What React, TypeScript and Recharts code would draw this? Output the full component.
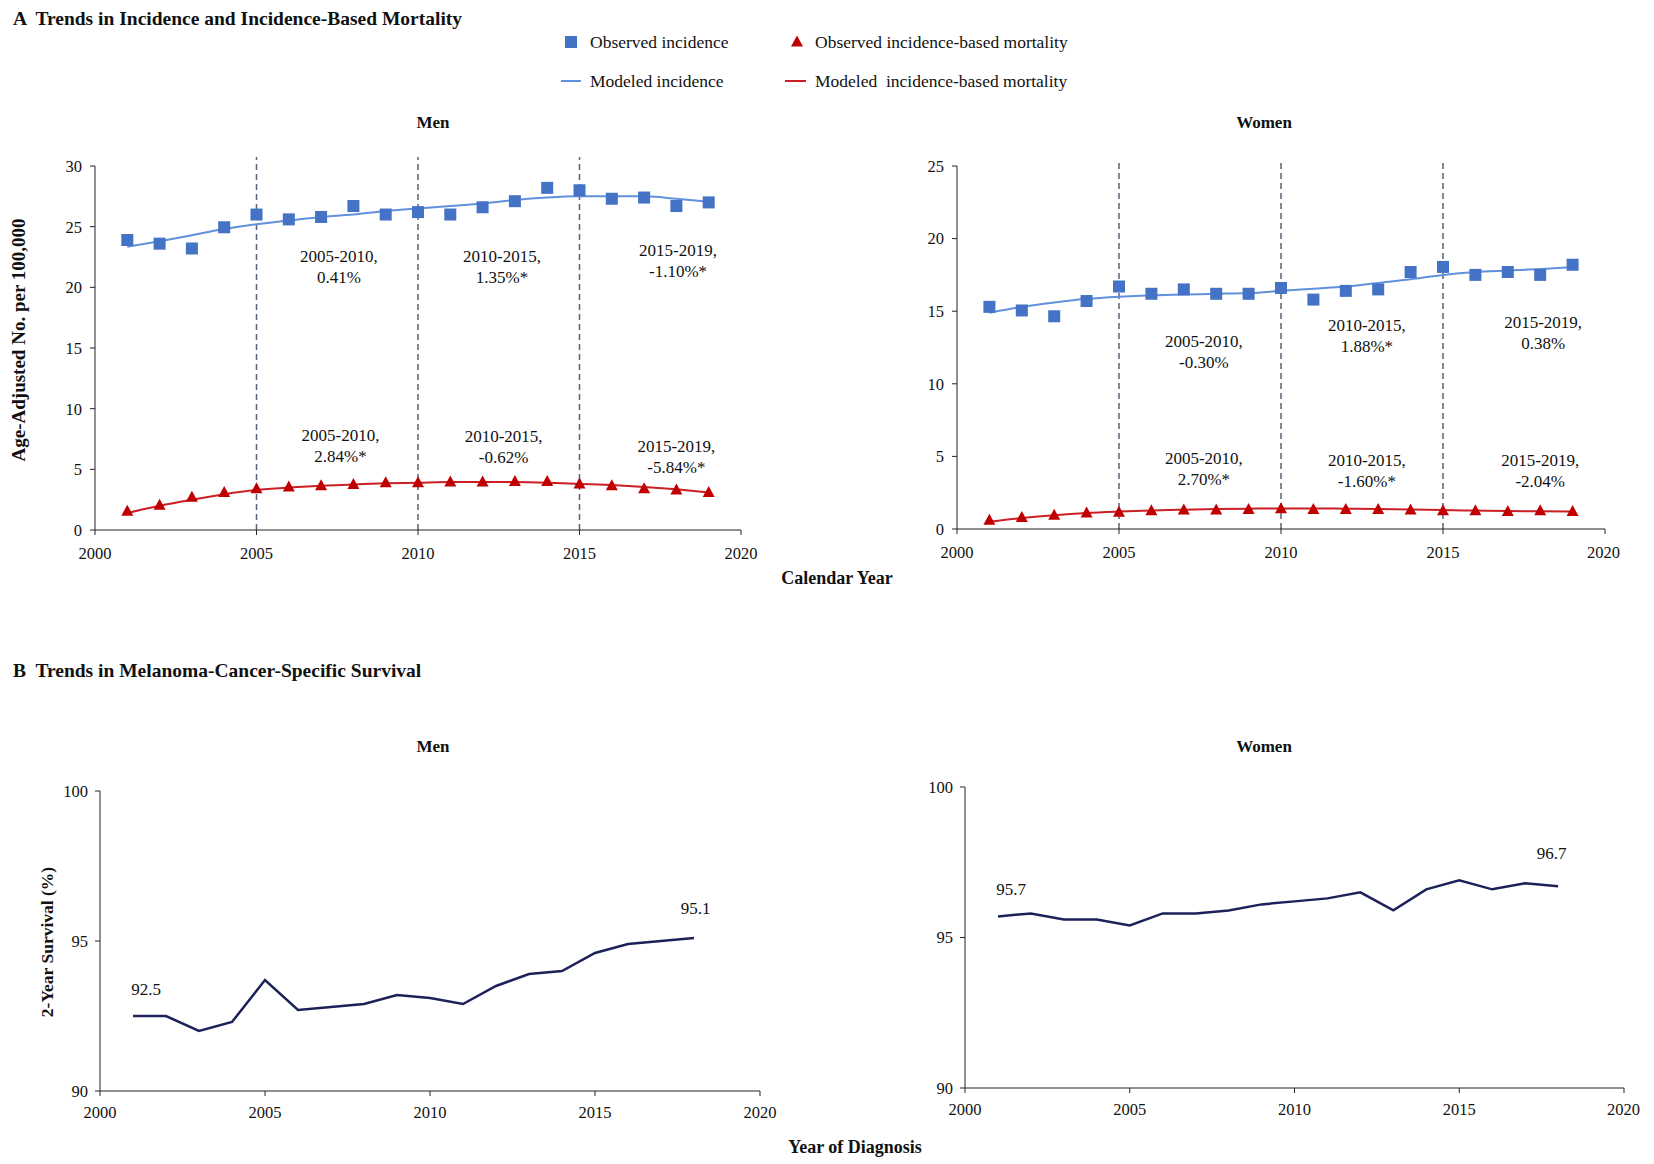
import React from 'react';
import { ComposedChart, LineChart, Line, Scatter, XAxis, YAxis, ReferenceLine, ReferenceDot } from 'recharts';

const FONT = '"Liberation Serif", "Times New Roman", serif';

const years = [2001, 2002, 2003, 2004, 2005, 2006, 2007, 2008, 2009, 2010, 2011, 2012, 2013, 2014, 2015, 2016, 2017, 2018, 2019];
const survivalYears = [2001, 2002, 2003, 2004, 2005, 2006, 2007, 2008, 2009, 2010, 2011, 2012, 2013, 2014, 2015, 2016, 2017, 2018];
const xTicks = [2000, 2005, 2010, 2015, 2020];
const joinpoints = [2005, 2010, 2015];

// men, incidence per 100,000
const menObsInc = [23.9, 23.6, 23.2, 24.95, 26.0, 25.6, 25.8, 26.7, 26.0, 26.2, 26.0, 26.6, 27.1, 28.2, 28.0, 27.3, 27.4, 26.7, 27.0];
const menModInc = [23.35, 23.8, 24.3, 24.8, 25.2, 25.5, 25.8, 26.0, 26.3, 26.5, 26.7, 26.9, 27.2, 27.4, 27.5, 27.5, 27.5, 27.3, 27.05];
const menObsMort = [1.55, 2.05, 2.7, 3.1, 3.4, 3.55, 3.65, 3.75, 3.9, 3.9, 3.95, 3.95, 4.0, 4.0, 3.8, 3.65, 3.4, 3.3, 3.1];
const menModMort = [1.4, 2.0, 2.5, 2.95, 3.3, 3.5, 3.65, 3.75, 3.85, 3.9, 3.95, 3.95, 3.95, 3.9, 3.8, 3.7, 3.55, 3.35, 3.1];

// women, incidence per 100,000
const womenObsInc = [15.3, 15.05, 14.65, 15.7, 16.7, 16.2, 16.5, 16.2, 16.2, 16.6, 15.8, 16.4, 16.5, 17.7, 18.05, 17.5, 17.7, 17.5, 18.2];
const womenModInc = [14.9, 15.3, 15.6, 15.85, 16.0, 16.1, 16.15, 16.2, 16.25, 16.4, 16.55, 16.7, 16.95, 17.2, 17.5, 17.7, 17.8, 17.9, 18.05];
const womenObsMort = [0.6, 0.8, 0.95, 1.1, 1.15, 1.25, 1.3, 1.3, 1.35, 1.4, 1.35, 1.35, 1.35, 1.3, 1.25, 1.25, 1.2, 1.25, 1.2];
const womenModMort = [0.5, 0.75, 0.95, 1.1, 1.2, 1.28, 1.33, 1.37, 1.4, 1.42, 1.42, 1.4, 1.38, 1.35, 1.3, 1.27, 1.24, 1.22, 1.2];

// 2-year cancer-specific survival (%)
const menSurvival = [92.5, 92.5, 92.0, 92.3, 93.7, 92.7, 92.8, 92.9, 93.2, 93.1, 92.9, 93.5, 93.9, 94.0, 94.6, 94.9, 95.0, 95.1];
const womenSurvival = [95.7, 95.8, 95.6, 95.6, 95.4, 95.8, 95.8, 95.9, 96.1, 96.2, 96.3, 96.5, 95.9, 96.6, 96.9, 96.6, 96.8, 96.7];

// APC annotations: anchor year, anchor value, two text lines
const menNotes = [
  { x: 2007.55, y: 21.7, lines: ['2005-2010,', '0.41%'] },
  { x: 2012.6, y: 21.7, lines: ['2010-2015,', '1.35%*'] },
  { x: 2018.05, y: 22.2, lines: ['2015-2019,', '-1.10%*'] },
  { x: 2007.6, y: 7.0, lines: ['2005-2010,', '2.84%*'] },
  { x: 2012.65, y: 6.9, lines: ['2010-2015,', '-0.62%'] },
  { x: 2018.0, y: 6.05, lines: ['2015-2019,', '-5.84%*'] },
];
const womenNotes = [
  { x: 2007.62, y: 12.2, lines: ['2005-2010,', '-0.30%'] },
  { x: 2012.65, y: 13.35, lines: ['2010-2015,', '1.88%*'] },
  { x: 2018.09, y: 13.5, lines: ['2015-2019,', '0.38%'] },
  { x: 2007.62, y: 4.15, lines: ['2005-2010,', '2.70%*'] },
  { x: 2012.65, y: 4.05, lines: ['2010-2015,', '-1.60%*'] },
  { x: 2018.0, y: 4.0, lines: ['2015-2019,', '-2.04%'] },
];
const menSurvNotes = [
  { x: 2001.4, y: 93.4, lines: ['92.5'] },
  { x: 2018.05, y: 96.1, lines: ['95.1'] },
];
const womenSurvNotes = [
  { x: 2001.4, y: 96.6, lines: ['95.7'] },
  { x: 2017.8, y: 97.8, lines: ['96.7'] },
];

const BLUE = '#4472c4';
const BLUE_LINE = '#6190dc';
const RED = '#c00000';
const RED_LINE = '#cc1f24';
const NAVY = '#1c2259';

const Square = (props: any) => {
  const { cx, cy } = props;
  if (cx == null || cy == null) return null;
  return <rect x={cx - 6} y={cy - 6} width={12} height={12} fill={BLUE} />;
};

const Triangle = (props: any) => {
  const { cx, cy } = props;
  if (cx == null || cy == null) return null;
  return <polygon points={`${cx},${cy - 6.5} ${cx - 6},${cy + 4.5} ${cx + 6},${cy + 4.5}`} fill={RED} />;
};

const noteLabel = (lines: string[]) => (props: any) => {
  const vb = props.viewBox || {};
  const cx = (vb.x ?? 0) + (vb.width ?? 0) / 2;
  const cy = (vb.y ?? 0) + (vb.height ?? 0) / 2;
  const lh = 21;
  const start = cy - ((lines.length - 1) * lh) / 2;
  return (
    <text x={cx} y={start} textAnchor="middle" dominantBaseline="central" fontFamily={FONT} fontSize={17} fill="#111">
      {lines.map((t, i) => (
        <tspan key={i} x={cx} y={start + i * lh}>{t}</tspan>
      ))}
    </text>
  );
};

const tickStyle = { fill: '#111', fontSize: 16.5, fontFamily: FONT };

function IncidencePanel(props: any) {
  const { left, top, width, height, margin, yWidth, xHeight, yMax, yTicks, notes, obsInc, modInc, obsMort, modMort, dashTop } = props;
  const data = years.map((year, i) => ({ year, obsInc: obsInc[i], modInc: modInc[i], obsMort: obsMort[i], modMort: modMort[i] }));
  return (
    <div style={{ position: 'absolute', left, top }}>
      <ComposedChart width={width} height={height} data={data} margin={margin}>
        <XAxis type="number" dataKey="year" domain={[2000, 2020]} ticks={xTicks} height={xHeight}
          axisLine={{ stroke: '#222' }} tickLine={{ stroke: '#222' }} tickSize={5} tickMargin={12} tick={tickStyle} />
        <YAxis type="number" domain={[0, yMax]} ticks={yTicks} width={yWidth}
          axisLine={{ stroke: '#222' }} tickLine={{ stroke: '#222' }} tickSize={5} tickMargin={8} tick={tickStyle} />
        {joinpoints.map((jp) => (
          <ReferenceLine key={jp} segment={[{ x: jp, y: 0 }, { x: jp, y: dashTop }]} ifOverflow="visible"
            stroke="#56657a" strokeWidth={1.5} strokeDasharray="6 4" />
        ))}
        <Line type="monotone" dataKey="modInc" stroke={BLUE_LINE} strokeWidth={2} dot={false} activeDot={false} isAnimationActive={false} />
        <Line type="monotone" dataKey="modMort" stroke={RED_LINE} strokeWidth={2} dot={false} activeDot={false} isAnimationActive={false} />
        <Scatter dataKey="obsInc" shape={Square} isAnimationActive={false} />
        <Scatter dataKey="obsMort" shape={Triangle} isAnimationActive={false} />
        {notes.map((n: any, i: number) => (
          <ReferenceDot key={i} x={n.x} y={n.y} r={1} fill="none" stroke="none" ifOverflow="visible" label={{ content: noteLabel(n.lines) }} />
        ))}
      </ComposedChart>
    </div>
  );
}

function SurvivalPanel(props: any) {
  const { left, top, width, height, margin, yWidth, xHeight, values, notes } = props;
  const data = survivalYears.map((year, i) => ({ year, survival: values[i] }));
  return (
    <div style={{ position: 'absolute', left, top }}>
      <LineChart width={width} height={height} data={data} margin={margin}>
        <XAxis type="number" dataKey="year" domain={[2000, 2020]} ticks={xTicks} height={xHeight}
          axisLine={{ stroke: '#222' }} tickLine={{ stroke: '#222' }} tickSize={5} tickMargin={10} tick={tickStyle} />
        <YAxis type="number" domain={[90, 100]} ticks={[90, 95, 100]} width={yWidth}
          axisLine={{ stroke: '#222' }} tickLine={{ stroke: '#222' }} tickSize={5} tickMargin={7} tick={tickStyle} />
        <Line type="linear" dataKey="survival" stroke={NAVY} strokeWidth={2.5} dot={false} activeDot={false} isAnimationActive={false} />
        {notes.map((n: any, i: number) => (
          <ReferenceDot key={i} x={n.x} y={n.y} r={1} fill="none" stroke="none" ifOverflow="visible" label={{ content: noteLabel(n.lines) }} />
        ))}
      </LineChart>
    </div>
  );
}

export default function App() {
  const bold = { fontFamily: FONT, fontWeight: 700, fill: '#111' } as const;
  const reg = { fontFamily: FONT, fill: '#111', fontSize: 17.5 } as const;
  const pre = { whiteSpace: 'pre' } as const;
  return (
    <div style={{ position: 'absolute', left: 0, top: 0, width: 1654, height: 1164, background: '#fff', overflow: 'hidden' }}>
      <IncidencePanel left={0} top={130} width={760} height={440}
        margin={{ top: 36, right: 19, bottom: 10, left: 0 }} yWidth={95} xHeight={30}
        yMax={30} yTicks={[0, 5, 10, 15, 20, 25, 30]} dashTop={30.75} notes={menNotes}
        obsInc={menObsInc} modInc={menModInc} obsMort={menObsMort} modMort={menModMort} />
      <IncidencePanel left={860} top={130} width={760} height={440}
        margin={{ top: 36, right: 15, bottom: 11, left: 0 }} yWidth={97} xHeight={30}
        yMax={25} yTicks={[0, 5, 10, 15, 20, 25]} dashTop={25.35} notes={womenNotes}
        obsInc={womenObsInc} modInc={womenModInc} obsMort={womenObsMort} modMort={womenModMort} />
      <SurvivalPanel left={0} top={760} width={780} height={380}
        margin={{ top: 31, right: 20, bottom: 19, left: 0 }} yWidth={100} xHeight={30}
        values={menSurvival} notes={menSurvNotes} />
      <SurvivalPanel left={860} top={760} width={780} height={380}
        margin={{ top: 27, right: 16, bottom: 22, left: 0 }} yWidth={105} xHeight={30}
        values={womenSurvival} notes={womenSurvNotes} />

      <svg width={1654} height={1164} style={{ position: 'absolute', left: 0, top: 0, pointerEvents: 'none' }}>
        <text x={13} y={25} fontSize={19.5} {...bold} style={pre}>A  Trends in Incidence and Incidence-Based Mortality</text>
        <text x={13} y={677} fontSize={19.5} {...bold} style={pre}>B  Trends in Melanoma-Cancer-Specific Survival</text>

        <rect x={565} y={36} width={12} height={12} fill={BLUE} />
        <text x={590} y={48} {...reg}>Observed incidence</text>
        <polygon points="797,35.5 791,46.5 803,46.5" fill={RED} />
        <text x={815} y={48} {...reg}>Observed incidence-based mortality</text>
        <line x1={561} y1={81} x2={581} y2={81} stroke={BLUE_LINE} strokeWidth={2} />
        <text x={590} y={87} {...reg}>Modeled incidence</text>
        <line x1={785} y1={81} x2={806} y2={81} stroke={RED_LINE} strokeWidth={2} />
        <text x={815} y={87} {...reg} style={pre}>Modeled  incidence-based mortality</text>

        <text x={433} y={128} textAnchor="middle" fontSize={17} {...bold}>Men</text>
        <text x={1264} y={128} textAnchor="middle" fontSize={17} {...bold}>Women</text>
        <text x={433} y={752} textAnchor="middle" fontSize={17} {...bold}>Men</text>
        <text x={1264} y={752} textAnchor="middle" fontSize={17} {...bold}>Women</text>

        <text transform="translate(25,340) rotate(-90)" textAnchor="middle" fontSize={19} {...bold}>Age-Adjusted No. per 100,000</text>
        <text transform="translate(53,942) rotate(-90)" textAnchor="middle" fontSize={17.5} {...bold}>2-Year Survival (%)</text>
        <text x={837} y={584} textAnchor="middle" fontSize={18} {...bold}>Calendar Year</text>
        <text x={855} y={1153} textAnchor="middle" fontSize={18} {...bold}>Year of Diagnosis</text>
      </svg>
    </div>
  );
}
